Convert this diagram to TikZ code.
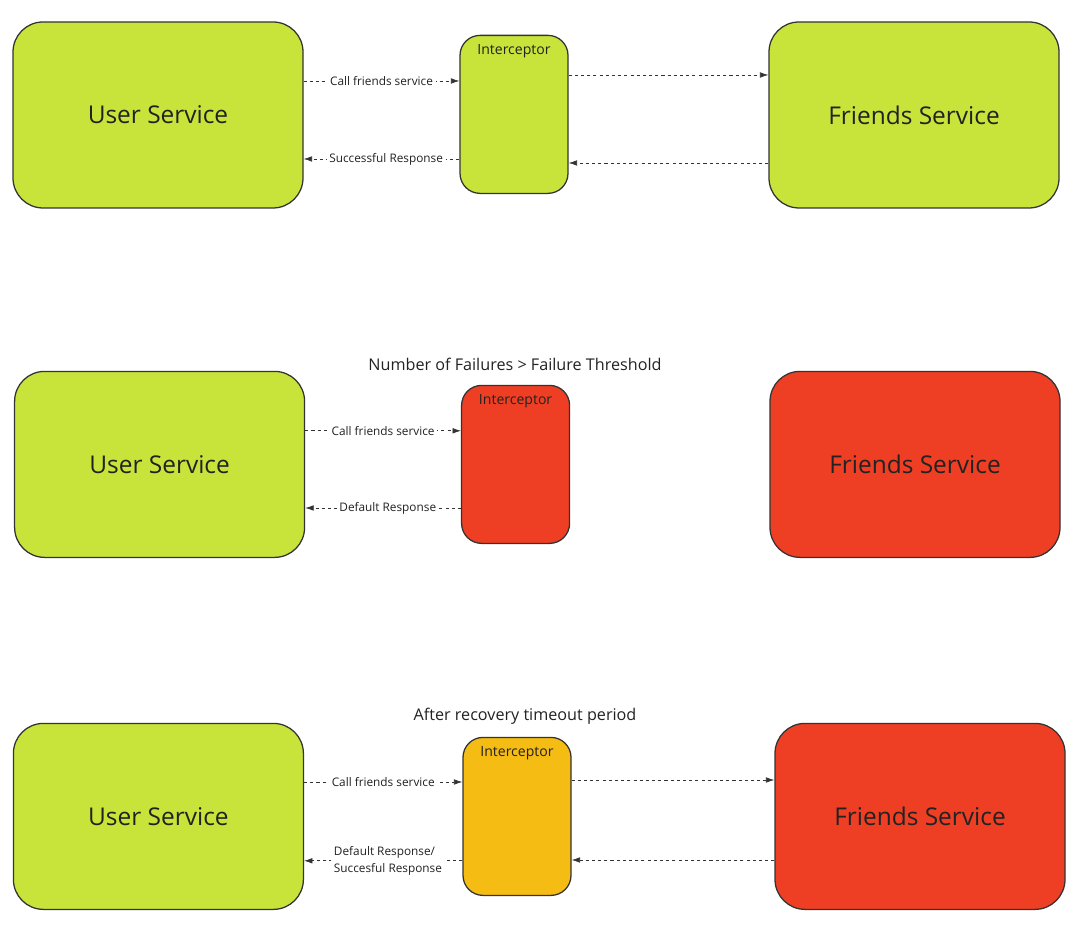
\documentclass[tikz,border=0pt]{standalone}
\usepackage{fontspec}
\setmainfont{Open Sans}
\usepackage[HTML]{xcolor}
\usepackage{tikz}
\usetikzlibrary{arrows.meta}

\definecolor{okgreen}{HTML}{C8E43B}
\definecolor{failred}{HTML}{EE3F24}
\definecolor{halfamber}{HTML}{F5BC14}
\definecolor{edgegray}{HTML}{333333}
\definecolor{inkgray}{HTML}{222222}

\begin{document}
\begin{tikzpicture}[
  svc/.style={draw=edgegray, line width=0.9pt, rounded corners=0.75cm, text=inkgray,
    minimum width=7.25cm, minimum height=4.65cm, font=\fontsize{17.4}{20}\selectfont},
  icpt/.style={draw=edgegray, line width=0.9pt, rounded corners=0.5cm,
    minimum width=2.7cm, minimum height=3.95cm,
    label={[anchor=north, yshift=-0.13cm, text=inkgray, font=\fontsize{10}{12}\selectfont]north:Interceptor}},
  flow/.style={edgegray, line width=0.5pt, dash pattern=on 2.2pt off 2.2pt,
    -{Latex[length=6pt,width=4pt]}},
  lbl/.style={fill=white, inner sep=2pt, text=inkgray, font=\fontsize{8.4}{12}\selectfont},
  head/.style={text=inkgray, font=\fontsize{11.5}{13}\selectfont}
]
\useasboundingbox (0,0) rectangle (27,23.25);

% closed: calls pass through
\node[svc, fill=okgreen] (user1) at (3.95,20.375) {User Service};
\node[icpt, fill=okgreen] (int1) at (12.85,20.39) {};
\node[svc, fill=okgreen] (friends1) at (22.85,20.375) {Friends Service};
\draw[flow] ([yshift=0.85cm]user1.east) -- ([yshift=0.85cm]user1.east -| int1.west)
  node[lbl, midway] {Call friends service};
\draw[flow] ([yshift=-1.1cm]user1.east -| int1.west) -- ([yshift=-1.1cm]user1.east)
  node[lbl, pos=0.47] {Successful Response};
\draw[flow] ([yshift=1.0cm]int1.east |- friends1) -- ([yshift=1.0cm]friends1.west);
\draw[flow] ([yshift=-1.2cm]friends1.west) -- ([yshift=-1.2cm]int1.east |- friends1);

% open: failures over threshold
\node[head] (title2) at (12.875,14.15) {Number of Failures > Failure Threshold};
\node[svc, fill=okgreen] (user2) at (3.99,11.64) {User Service};
\node[icpt, fill=failred] (int2) at (12.89,11.64) {};
\node[svc, fill=failred] (friends2) at (22.875,11.64) {Friends Service};
\draw[flow] ([yshift=0.84cm]user2.east) -- ([yshift=0.84cm]user2.east -| int2.west)
  node[lbl, midway] {Call friends service};
\draw[flow] ([yshift=-1.09cm]user2.east -| int2.west) -- ([yshift=-1.09cm]user2.east)
  node[lbl, pos=0.47] {Default Response};

% half open: after recovery timeout
\node[head] (title3) at (13.125,5.35) {After recovery timeout period};
\node[svc, fill=okgreen] (user3) at (3.96,2.84) {User Service};
\node[icpt, fill=halfamber] (int3) at (12.925,2.84) {};
\node[svc, fill=failred] (friends3) at (23.0,2.84) {Friends Service};
\draw[flow] ([yshift=0.86cm]user3.east) -- ([yshift=0.86cm]user3.east -| int3.west)
  node[lbl, midway] {Call friends service};
\draw[flow] ([yshift=-1.11cm]user3.east -| int3.west) -- ([yshift=-1.11cm]user3.east)
  node[lbl, pos=0.47, align=left] {Default Response/\\Succesful Response};
\draw[flow] ([yshift=0.91cm]int3.east |- friends3) -- ([yshift=0.91cm]friends3.west);
\draw[flow] ([yshift=-1.09cm]friends3.west) -- ([yshift=-1.09cm]int3.east |- friends3);
\end{tikzpicture}
\end{document}
